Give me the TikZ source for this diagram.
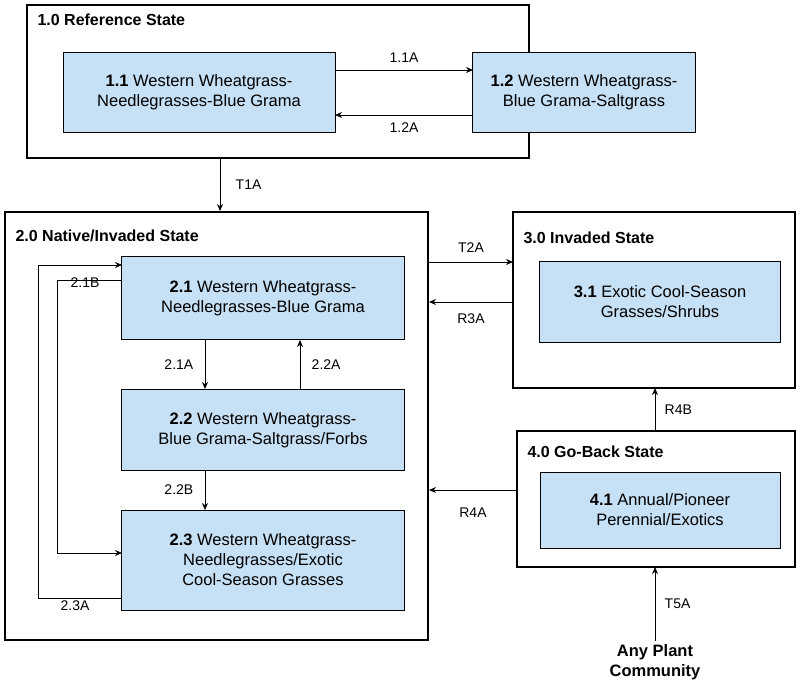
\documentclass[tikz,border=0pt]{standalone}
\usepackage{fontspec}
\setmainfont{Liberation Sans}
\usetikzlibrary{arrows.meta,positioning}
\definecolor{comm}{HTML}{C6E0F5}
\tikzset{
  statebox/.style={draw=black, line width=2.4pt},
  community/.style={draw=black, fill=comm, line width=0.6pt, align=center, inner sep=0pt},
  stitle/.style={anchor=west, font=\fontsize{16}{18}\selectfont\bfseries},
  lbl/.style={font=\fontsize{14}{16}\selectfont},
  trans/.style={-{Stealth[length=7pt,width=6pt]}, line width=0.8pt}
}
\begin{document}
\begin{tikzpicture}[x=1pt,y=-1pt, font=\fontsize{16.5}{20}\selectfont]
    \useasboundingbox (0,0) rectangle (800,685);
    % states
    \draw[statebox] (27,5) rectangle (529,158);
    \node[stitle] (s1) at (34,20) {1.0 Reference State};
    \draw[statebox] (5,212) rectangle (428,640);
    \node[stitle] (s2) at (12,236) {2.0 Native/Invaded State};
    \draw[statebox] (513,212) rectangle (795,388);
    \node[stitle] (s3) at (520,238) {3.0 Invaded State};
    \draw[statebox] (517,431) rectangle (795,567);
    \node[stitle] (s4) at (524,452) {4.0 Go-Back State};
    % communities
    \node (c11) [community, minimum width=272, minimum height=80] at (199,92)
        {\textbf{1.1} Western Wheatgrass-\\Needlegrasses-Blue Grama};
    \node (c12) [community, minimum width=223, minimum height=80] at (584,92)
        {\textbf{1.2} Western Wheatgrass-\\Blue Grama-Saltgrass};
    \node (c21) [community, minimum width=283, minimum height=83] at (263,298)
        {\textbf{2.1} Western Wheatgrass-\\Needlegrasses-Blue Grama};
    \node (c22) [community, minimum width=283, minimum height=81] at (263,430)
        {\textbf{2.2} Western Wheatgrass-\\Blue Grama-Saltgrass/Forbs};
    \node (c23) [community, minimum width=283, minimum height=100] at (263,560)
        {\textbf{2.3} Western Wheatgrass-\\Needlegrasses/Exotic\\Cool-Season Grasses};
    \node (c31) [community, minimum width=241, minimum height=81] at (660,302)
        {\textbf{3.1} Exotic Cool-Season\\Grasses/Shrubs};
    \node (c41) [community, minimum width=240, minimum height=76] at (660,510)
        {\textbf{4.1} Annual/Pioneer\\Perennial/Exotics};
    \node (any) [font=\fontsize{16.5}{20}\selectfont\bfseries, align=center] at (655,662)
        {Any Plant\\Community};
    % transitions
    \draw[trans] (335,70) -- node[lbl, above=4pt] {1.1A} (473,70);
    \draw[trans] (473,115) -- node[lbl, below=4pt] {1.2A} (335,115);
    \draw[trans] (220,158) -- node[lbl, right=12pt] {T1A} (220,211);
    \draw[trans] (205,340) -- node[lbl, left=8pt] {2.1A} (205,389);
    \draw[trans] (300,389) -- node[lbl, right=8pt] {2.2A} (300,340);
    \draw[trans] (205,470) -- node[lbl, left=8pt] {2.2B} (205,510);
    \draw[trans] (122,598) -- (38,598) -- (38,265) -- (122,265);
    \node[lbl] (l23a) at (75,606) {2.3A};
    \draw[trans] (122,280) -- (57,280) -- (57,553) -- (122,553);
    \node[lbl] (l21b) at (85,283) {2.1B};
    \draw[trans] (429,262) -- node[lbl, above=6pt] {T2A} (513,262);
    \draw[trans] (513,302) -- node[lbl, below=8pt] {R3A} (429,302);
    \draw[trans] (655,431) -- node[lbl, right=6pt] {R4B} (655,388);
    \draw[trans] (517,490) -- node[lbl, below=14pt] {R4A} (429,490);
    \draw[trans] (any) -- node[lbl, right=6pt] {T5A} (655,567);
\end{tikzpicture}
\end{document}
